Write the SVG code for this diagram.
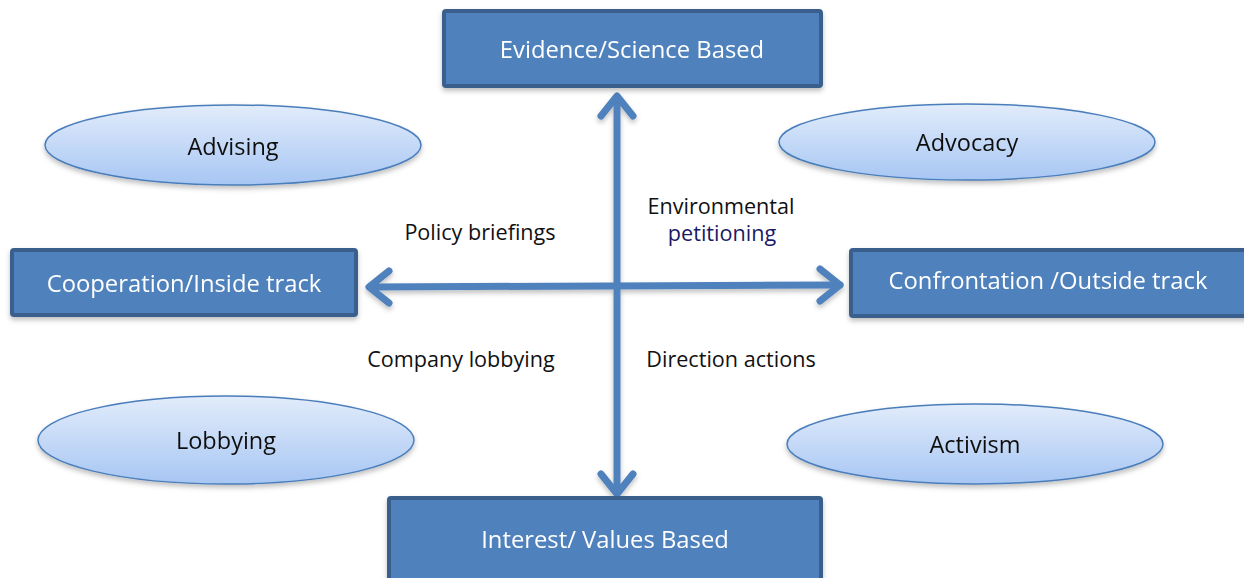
<svg xmlns="http://www.w3.org/2000/svg" width="1244" height="578" viewBox="0 0 1244 578">
  <style>
    .box { fill: #4f81bd; stroke: #3b5f8d; stroke-width: 4; }
    .boxtext { font-family: "Open Sans", "Noto Sans", sans-serif; font-size: 23.8px; fill: #ffffff; text-anchor: middle; dominant-baseline: central; }
    .oval { fill: url(#ovalGrad); stroke: #4a7ebb; stroke-width: 1.5; }
    .ovaltext { font-family: "Open Sans", "Noto Sans", sans-serif; font-size: 23.5px; fill: #111111; text-anchor: middle; dominant-baseline: central; }
    .label { font-family: "Open Sans", "Noto Sans", sans-serif; font-size: 21.6px; fill: #111111; text-anchor: middle; dominant-baseline: central; }
    .axis { fill: none; stroke: #4f81bd; stroke-width: 7; stroke-linecap: round; stroke-linejoin: round; }
  </style>
  <defs>
    <linearGradient id="ovalGrad" x1="0" y1="0" x2="0" y2="1">
      <stop offset="0" stop-color="#e2ecfb"/>
      <stop offset="1" stop-color="#a7c6f3"/>
    </linearGradient>
    <filter id="shadow" x="-10%" y="-20%" width="120%" height="150%">
      <feDropShadow dx="0" dy="3" stdDeviation="2.5" flood-color="#000" flood-opacity="0.25"/>
    </filter>
  </defs>

  <!-- axes with open chevron heads -->
  <g id="connectors" filter="url(#shadow)">
    <path class="axis" d="M617 97 L617 493"/>
    <path class="axis" d="M601 116 L617 96 L633 116"/>
    <path class="axis" d="M601 474 L617 494 L633 474"/>
    <path class="axis" d="M370 287 L840 285"/>
    <path class="axis" d="M389 271 L369 287 L389 303"/>
    <path class="axis" d="M820 269 L840 285 L820 301"/>
  </g>

  <g id="evidence" filter="url(#shadow)">
    <rect class="box" x="444" y="11" width="377" height="75" rx="2"/>
    <text class="boxtext" x="632" y="49">Evidence/Science Based</text>
  </g>
  <g id="cooperation" filter="url(#shadow)">
    <rect class="box" x="12" y="250" width="344" height="65" rx="2"/>
    <text class="boxtext" x="184" y="283">Cooperation/Inside track</text>
  </g>
  <g id="confrontation" filter="url(#shadow)">
    <rect class="box" x="851" y="250" width="396" height="66" rx="2"/>
    <text class="boxtext" x="1048" y="280">Confrontation /Outside track</text>
  </g>
  <g id="interest" filter="url(#shadow)">
    <rect class="box" x="389" y="498" width="432" height="84" rx="2"/>
    <text class="boxtext" x="605" y="539">Interest/ Values Based</text>
  </g>

  <g id="advising" filter="url(#shadow)">
    <ellipse class="oval" cx="233" cy="145" rx="188" ry="40"/>
    <text class="ovaltext" x="233" y="146">Advising</text>
  </g>
  <g id="advocacy" filter="url(#shadow)">
    <ellipse class="oval" cx="967" cy="142" rx="188" ry="38"/>
    <text class="ovaltext" x="967" y="142">Advocacy</text>
  </g>
  <g id="lobbying" filter="url(#shadow)">
    <ellipse class="oval" cx="226" cy="440" rx="188" ry="44"/>
    <text class="ovaltext" x="226" y="440">Lobbying</text>
  </g>
  <g id="activism" filter="url(#shadow)">
    <ellipse class="oval" cx="975" cy="444" rx="188" ry="40"/>
    <text class="ovaltext" x="975" y="444">Activism</text>
  </g>

  <g id="labels">
    <text class="label" x="480" y="231">Policy briefings</text>
    <text class="label" x="721" y="205">Environmental</text>
    <text class="label" x="722" y="232" style="fill:#1a1a66">petitioning</text>
    <text class="label" x="461" y="358">Company lobbying</text>
    <text class="label" x="731" y="358">Direction actions</text>
  </g>
</svg>
